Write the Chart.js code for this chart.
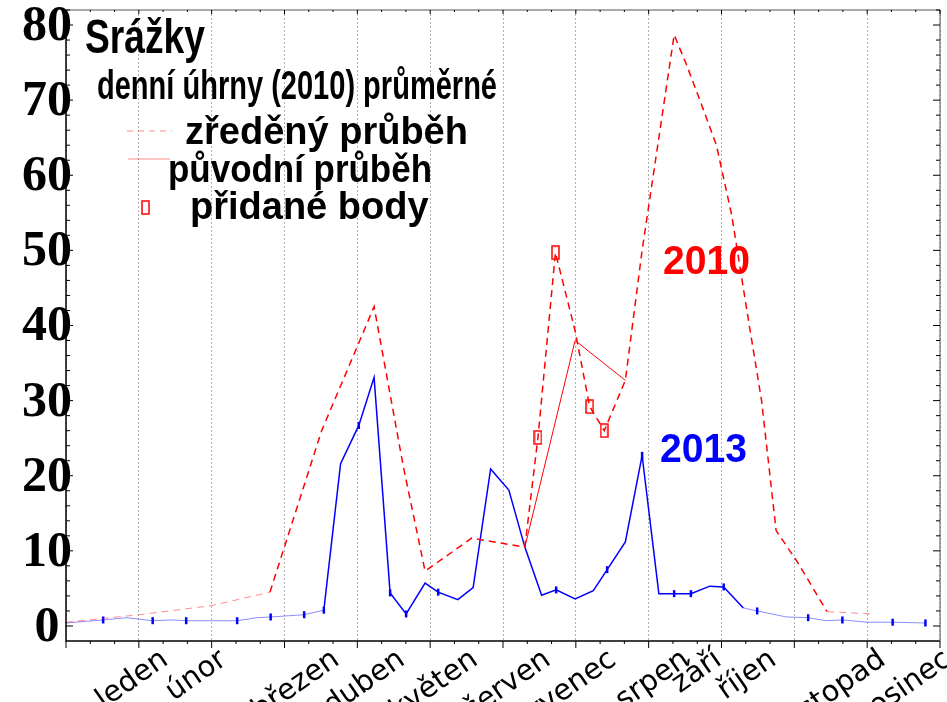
<!DOCTYPE html>
<html>
<head>
<meta charset="utf-8">
<script src="https://cdn.jsdelivr.net/npm/chart.js@4"></script>
<style>
  body { margin: 0; background: #fff; }
  #box { width: 947px; height: 702px; }
</style>
</head>
<body>
<div id="box"><canvas id="graf"></canvas></div>
<script>
// mesice a pozice popisku (v mesicich od zacatku roku)
const mesice = ['leden', 'únor', 'březen', 'duben', 'květen', 'červen', 'červenec', 'srpen', 'září', 'říjen', 'listopad', 'prosinec'];
const poziceMesicu = [1.25, 2.05, 3.6, 4.5, 5.5, 6.5, 7.4, 8.4, 8.85, 9.6, 11.1, 12.0];
const yTicky = [0, 10, 20, 30, 40, 50, 60, 70, 80];

// zredeny prubeh (cervena carkovana)
const zredenyX = [0, 1.01, 1.99, 2.8, 3.51, 4.23, 4.63, 4.93, 5.57, 6.3, 6.48, 6.72, 6.99, 7.19, 7.39, 7.68, 7.91, 8.35, 8.52, 8.73, 8.93, 9.14, 9.37, 9.55, 9.75, 10.03, 10.45, 11.08];
const zredenyY = [0.5, 1.5, 2.7, 4.5, 26.0, 42.5, 21.3, 7.3, 11.7, 10.5, 25.1, 49.7, 39.3, 29.2, 26.0, 32.7, 50.0, 78.7, 74.7, 69.3, 64.0, 54.7, 40.7, 30.0, 12.7, 8.7, 1.9, 1.6];

// puvodni prubeh (cervena plna)
const puvodniX = [6.3, 6.99, 7.68];
const puvodniY = [10.5, 38.0, 32.7];

// pridane body (cervene obdelniky)
const bodyX = [6.48, 6.72, 7.19, 7.39];
const bodyY = [25.1, 49.7, 29.2, 26.0];

// modra rada 2013
const modraX = [0, 0.51, 0.83, 1.01, 1.19, 1.46, 1.65, 2.35, 2.62, 2.81, 3.27, 3.54, 3.77, 4.02, 4.23, 4.45, 4.67, 4.93, 5.11, 5.38, 5.59, 5.83, 6.08, 6.3, 6.53, 6.73, 6.99, 7.24, 7.43, 7.68, 7.91, 8.14, 8.35, 8.58, 8.84, 9.03, 9.3, 9.49, 9.89, 10.19, 10.44, 10.66, 11.01, 11.35, 11.8];
const modraY = [0.4, 0.8, 1.1, 0.9, 0.7, 0.8, 0.7, 0.7, 1.1, 1.2, 1.5, 2.1, 21.6, 26.7, 33.1, 4.4, 1.6, 5.7, 4.5, 3.5, 5.1, 20.9, 18.1, 10.5, 4.1, 4.8, 3.6, 4.7, 7.5, 11.2, 22.7, 4.3, 4.3, 4.3, 5.3, 5.2, 2.4, 2.0, 1.2, 1.1, 0.7, 0.8, 0.5, 0.5, 0.4];
// indexy modrych bodu se znackou
const modraZnacky = [1, 4, 6, 7, 9, 10, 11, 13, 15, 16, 18, 25, 28, 30, 32, 33, 35, 37, 39, 41, 43, 44];

function body(xs, ys) {
    return xs.map((x, i) => ({ x: x, y: ys[i] }));
}

// obdelnikova znacka
const obdelnik = document.createElement('canvas');
obdelnik.width = 9;
obdelnik.height = 15;
const octx = obdelnik.getContext('2d');
octx.strokeStyle = '#ff0000';
octx.lineWidth = 1.5;
octx.strokeRect(1, 1, 7, 13);

const svetleCervena = 'rgba(255,0,0,0.45)';
const svetleModra = 'rgba(0,0,255,0.45)';

const popisky = {
    id: 'popisky',
    afterDraw(chart) {
        const ctx = chart.ctx;
        const a = chart.chartArea;
        const sx = chart.scales.x;
        const sy = chart.scales.y;
        ctx.save();

        // ramecek
        ctx.strokeStyle = '#000';
        ctx.lineWidth = 1.5;
        ctx.beginPath();
        ctx.moveTo(a.left, a.top);
        ctx.lineTo(a.left, a.bottom);
        ctx.lineTo(a.right, a.bottom);
        ctx.stroke();
        ctx.strokeStyle = '#555';
        ctx.lineWidth = 1;
        ctx.beginPath();
        ctx.moveTo(a.left, a.top);
        ctx.lineTo(a.right, a.top);
        ctx.lineTo(a.right, a.bottom);
        ctx.stroke();

        // ticky na ose x
        ctx.strokeStyle = '#000';
        for (let i = 0; i <= 36; i++) {
            const px = sx.getPixelForValue(i / 3);
            const hlavni = i % 3 === 0;
            ctx.beginPath();
            ctx.moveTo(px, a.bottom);
            ctx.lineTo(px, a.bottom + (hlavni ? 7 : 3));
            ctx.moveTo(px, a.top);
            ctx.lineTo(px, a.top + (hlavni ? 4 : 2));
            ctx.stroke();
        }
        // ticky na ose y
        for (let v = 0; v <= 82; v += 2) {
            const py = sy.getPixelForValue(v);
            const hlavni = v % 10 === 0;
            ctx.beginPath();
            ctx.moveTo(a.left, py);
            ctx.lineTo(a.left + (hlavni ? 7 : 4), py);
            ctx.moveTo(a.right, py);
            ctx.lineTo(a.right - (hlavni ? 7 : 4), py);
            ctx.stroke();
        }

        // popisky osy y
        ctx.fillStyle = '#000';
        ctx.font = 'bold 50px "Liberation Serif"';
        ctx.textAlign = 'center';
        ctx.textBaseline = 'middle';
        for (const v of yTicky) {
            ctx.fillText(String(v), 47, sy.getPixelForValue(v) + 2, 56);
        }

        // popisky osy x
        ctx.font = '29px "DejaVu Sans"';
        ctx.textAlign = 'right';
        ctx.textBaseline = 'top';
        for (let i = 0; i < mesice.length; i++) {
            ctx.save();
            ctx.translate(sx.getPixelForValue(poziceMesicu[i]), a.bottom + 4);
            ctx.rotate(-Math.PI * 35 / 180);
            ctx.fillText(mesice[i], 0, 0);
            ctx.restore();
        }

        // legenda
        ctx.textAlign = 'left';
        ctx.textBaseline = 'middle';
        ctx.font = 'bold 48px "Liberation Sans"';
        ctx.fillText('Srážky', 85, 40, 120);
        ctx.font = 'bold 40px "Liberation Sans"';
        ctx.fillText('denní úhrny (2010) průměrné', 97, 88, 400);
        ctx.font = 'bold 38px "Liberation Sans"';
        ctx.fillText('zředěný průběh', 185, 134, 287);
        ctx.fillText('původní průběh', 168, 172, 264);
        ctx.fillText('přidané body', 190, 209, 268);

        ctx.strokeStyle = svetleCervena;
        ctx.lineWidth = 1;
        ctx.setLineDash([6, 5]);
        ctx.beginPath();
        ctx.moveTo(127, 131);
        ctx.lineTo(172, 131);
        ctx.stroke();
        ctx.setLineDash([]);
        ctx.beginPath();
        ctx.moveTo(128, 159);
        ctx.lineTo(170, 159);
        ctx.stroke();
        ctx.drawImage(obdelnik, 141, 200);

        // roky u krivek
        ctx.font = 'bold 40px "Liberation Sans"';
        ctx.fillStyle = '#ff0000';
        ctx.fillText('2010', 663, 263, 87);
        ctx.fillStyle = '#0000ff';
        ctx.fillText('2013', 660, 451, 87);

        ctx.restore();
    }
};

new Chart(document.querySelector('#graf'), {
    type: 'line',
    data: {
        datasets: [
            {
                label: 'zředěný průběh',
                data: body(zredenyX, zredenyY),
                borderColor: '#ff0000',
                borderWidth: 1.5,
                borderDash: [7, 5],
                pointRadius: 0,
                segment: {
                    borderColor: (c) => (c.p0.parsed.x < 2.8 || c.p0.parsed.x >= 10.45 ? svetleCervena : '#ff0000'),
                    borderWidth: (c) => (c.p0.parsed.x < 2.8 || c.p0.parsed.x >= 10.45 ? 1 : 1.5),
                },
            },
            {
                label: 'původní průběh',
                data: body(puvodniX, puvodniY),
                borderColor: '#ff0000',
                borderWidth: 1,
                pointRadius: 0,
            },
            {
                label: 'přidané body',
                data: body(bodyX, bodyY),
                showLine: false,
                pointStyle: obdelnik,
                pointRadius: 6,
            },
            {
                label: '2013',
                data: body(modraX, modraY),
                borderColor: '#0000ff',
                borderWidth: 1.5,
                pointStyle: 'line',
                rotation: 90,
                pointBorderColor: '#0000ff',
                pointBorderWidth: 2.5,
                pointRadius: modraX.map((x, i) => (modraZnacky.includes(i) ? 3.5 : 0)),
                segment: {
                    borderColor: (c) => (c.p0.parsed.x < 3.54 || c.p0.parsed.x >= 9.3 ? svetleModra : '#0000ff'),
                    borderWidth: (c) => (c.p0.parsed.x < 3.54 || c.p0.parsed.x >= 9.3 ? 1 : 1.5),
                },
            },
        ],
    },
    options: {
        responsive: true,
        maintainAspectRatio: false,
        animation: false,
        layout: { padding: { left: 66, top: 10, right: 2, bottom: 61 } },
        plugins: {
            legend: { display: false },
            tooltip: { enabled: false },
        },
        scales: {
            x: {
                type: 'linear',
                min: 0,
                max: 12,
                ticks: { display: false, stepSize: 1 },
                grid: { color: '#b0b0b0', lineWidth: 1, drawTicks: false },
                border: { display: false, dash: [2, 2] },
            },
            y: {
                min: -2,
                max: 82,
                ticks: { display: false, stepSize: 10 },
                grid: { display: false, drawTicks: false },
                border: { display: false },
            },
        },
    },
    plugins: [popisky],
});
</script>
</body>
</html>
